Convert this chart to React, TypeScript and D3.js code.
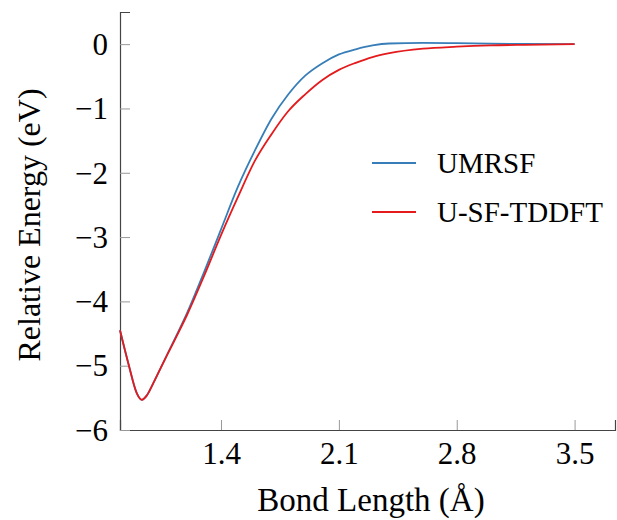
import { useRef, useEffect } from 'react'
import * as d3 from 'd3'

// bond lengths (Å) and relative energies (eV)
const bondLength = [
  0.8, 0.85, 0.9, 0.93, 0.96, 1.0, 1.05, 1.1, 1.15, 1.2, 1.3, 1.4, 1.5, 1.6, 1.7, 1.8, 1.9, 2.0,
  2.1, 2.2, 2.3, 2.4, 2.6, 2.8, 3.0, 3.2, 3.5,
]
const umrsf = [
  -4.45, -4.97, -5.43, -5.53, -5.46, -5.26, -4.99, -4.72, -4.45, -4.17, -3.54, -2.88, -2.22, -1.66,
  -1.16, -0.78, -0.49, -0.3, -0.16, -0.08, -0.02, 0.01, 0.02, 0.015, 0.008, 0.003, 0,
]
const usftddft = [
  -4.45, -4.97, -5.43, -5.53, -5.46, -5.26, -4.99, -4.73, -4.47, -4.2, -3.6, -2.97, -2.38, -1.82,
  -1.4, -1.04, -0.78, -0.56, -0.4, -0.29, -0.2, -0.14, -0.07, -0.04, -0.02, -0.01, 0,
]
const seriesNames = ['UMRSF', 'U-SF-TDDFT']
const seriesColors = ['#377eb8', '#e41a1c']
const xTicks = [1.4, 2.1, 2.8, 3.5]
const yTicks = [0, -1, -2, -3, -4, -5, -6]

const width = 617
const height = 520
const font = '"Liberation Serif", "DejaVu Serif", serif'

const App = () => {
  const svgRef = useRef<SVGSVGElement>(null)

  useEffect(() => {
    const svg = d3.select(svgRef.current)
    svg.selectAll('*').remove()

    const xScale = d3.scaleLinear().domain([0.8, 3.74]).range([120, 615])
    const yScale = d3.scaleLinear().domain([-6, 0.5]).range([430, 12])

    const g = svg.append('g')

    // axes
    const xAxis = d3
      .axisBottom(xScale)
      .tickValues(xTicks)
      .tickSize(-10)
      .tickPadding(12)
      .tickFormat(d3.format('.1f'))
    const yAxis = d3
      .axisLeft(yScale)
      .tickValues(yTicks)
      .tickSize(-10)
      .tickPadding(12)
      .tickFormat((d) => String(d).replace('-', '\u2212'))

    const xAxisGroup = g.append('g').attr('transform', `translate(0, ${yScale(-6)})`).call(xAxis)
    const yAxisGroup = g.append('g').attr('transform', `translate(${xScale(0.8)}, 0)`).call(yAxis)

    g.selectAll('.domain').attr('stroke', '#444').attr('stroke-width', 1.2)
    g.selectAll('.tick line').attr('stroke', '#999')
    g.selectAll('.tick text')
      .attr('font-family', font)
      .attr('font-size', 31)
      .attr('fill', 'black')
    xAxisGroup.selectAll('.tick text').attr('dy', '0.72em')
    yAxisGroup.selectAll('.tick text').attr('dy', '0.33em')

    // axis labels
    g.append('text')
      .text('Bond Length (Å)')
      .attr('x', 371)
      .attr('y', 511)
      .attr('text-anchor', 'middle')
      .attr('font-family', font)
      .attr('font-size', 33)

    g.append('text')
      .text('Relative Energy (eV)')
      .attr('transform', `translate(40, 225) rotate(-90)`)
      .attr('text-anchor', 'middle')
      .attr('font-family', font)
      .attr('font-size', 32)

    // lines
    const lineGenerator = d3
      .line<[number, number]>()
      .x((d) => xScale(d[0]))
      .y((d) => yScale(d[1]))
      .curve(d3.curveMonotoneX)

    const allSeries = [umrsf, usftddft]
    allSeries.forEach((values, i) => {
      const pts = bondLength.map((b, j) => [b, values[j]] as [number, number])
      g.append('path')
        .attr('d', lineGenerator(pts))
        .attr('fill', 'none')
        .attr('stroke', seriesColors[i])
        .attr('stroke-width', 1.8)
    })

    // legend
    const legend = g.append('g')
    seriesNames.forEach((name, i) => {
      const y = 163 + i * 49
      legend
        .append('line')
        .attr('x1', 372)
        .attr('x2', 416)
        .attr('y1', y)
        .attr('y2', y)
        .attr('stroke', seriesColors[i])
        .attr('stroke-width', 1.8)
      legend
        .append('text')
        .text(name)
        .attr('x', 437)
        .attr('y', y)
        .attr('dy', '0.35em')
        .attr('font-family', font)
        .attr('font-size', 29)
    })
  }, [])

  return (
    <div>
      <svg
        ref={svgRef}
        width={width}
        height={height}
        style={{ position: 'absolute', left: 0, top: 0, background: 'white' }}
      ></svg>
    </div>
  )
}

export default App
